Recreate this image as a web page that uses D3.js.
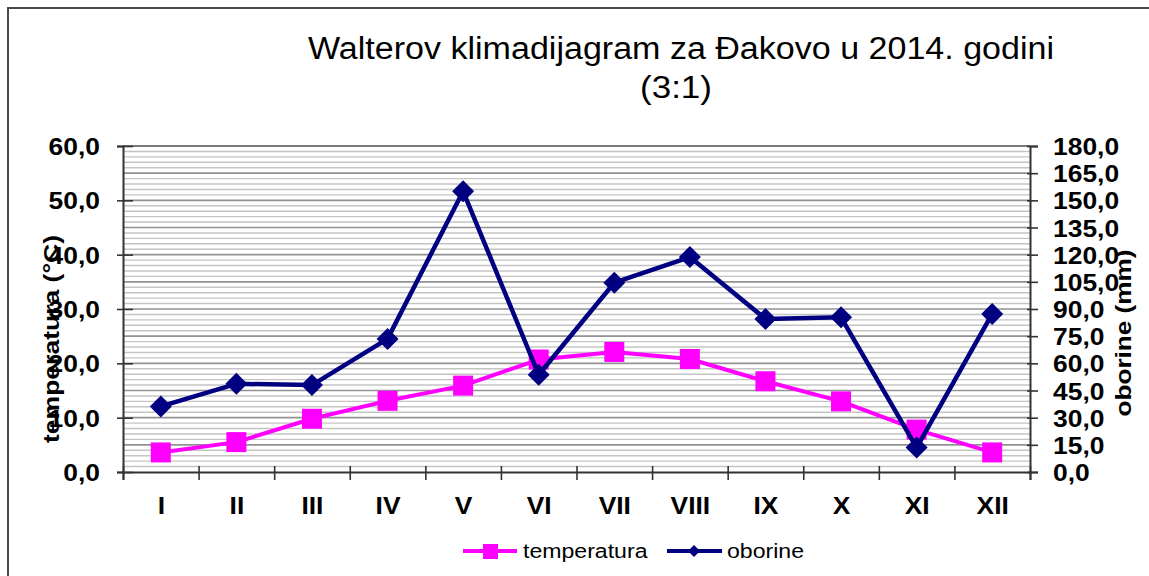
<!DOCTYPE html>
<html><head><meta charset="utf-8">
<script src="https://cdn.jsdelivr.net/npm/d3@7"></script>
<style>body{margin:0;background:#fff}svg{display:block}</style>
</head><body>
<svg id="c" width="1149" height="576"></svg>
<script>
// ---- data ----
const months = ["I","II","III","IV","V","VI","VII","VIII","IX","X","XI","XII"];
const temperatura = [3.6,5.5,9.8,13.1,15.9,20.7,22.1,20.8,16.7,13.0,7.8,3.6];
const oborine = [36.2,48.7,48.0,73.5,155.0,53.7,104.5,118.7,84.5,85.4,13.5,87.3];
const leftTicks = [0,10,20,30,40,50,60];
const rightTicks = [0,15,30,45,60,75,90,105,120,135,150,165,180];
const titleLine1 = "Walterov klimadijagram za Đakovo u 2014. godini";
const titleLine2 = "(3:1)";
const leftTitle = "temperatura (°C)";
const rightTitle = "oborine (mm)";
const seriesNames = ["temperatura","oborine"];

// ---- layout ----
const L = 123, R = 1030, T = 146, B = 472;
const FONT = "Arial, 'Liberation Sans', sans-serif";
const SX = 1.1;
const svg = d3.select("#c");
const fmt = d => d.toFixed(1).replace(".", ",");

svg.append("rect").attr("x",8).attr("y",8).attr("width",1300).attr("height",800)
  .attr("fill","#fff").attr("stroke","#4a4a4a").attr("stroke-width",2);

const x = d3.scalePoint().domain(months).range([L,R]).padding(0.5);
const xb = d3.scaleLinear().domain([0,months.length]).range([L,R]);
const yL = d3.scaleLinear().domain([0,60]).range([B,T]);
const yR = d3.scaleLinear().domain([0,180]).range([B,T]);

// gridlines
const grid = svg.append("g");
grid.selectAll("line.minor").data(d3.range(1,60).filter(v => v % 5 !== 0)).join("line")
  .attr("x1",L).attr("x2",R).attr("y1",d=>yL(d)).attr("y2",d=>yL(d))
  .attr("stroke","#c4c4c4").attr("stroke-width",1.4);
grid.selectAll("line.major").data(d3.range(5,60,5)).join("line")
  .attr("x1",L).attr("x2",R).attr("y1",d=>yL(d)).attr("y2",d=>yL(d))
  .attr("stroke","#929292").attr("stroke-width",1.6);
grid.append("line").attr("x1",L).attr("x2",R).attr("y1",yL(60)).attr("y2",yL(60))
  .attr("stroke","#7a7a7a").attr("stroke-width",2);

// left axis
const gl = svg.append("g").attr("transform",`translate(${L},0)`)
  .call(d3.axisLeft(yL).tickValues(leftTicks).tickSize(6).tickFormat(fmt));
gl.select(".domain").attr("stroke","#333").attr("stroke-width",2);
gl.selectAll(".tick line").attr("x1",10).attr("stroke","#333").attr("stroke-width",1.6);
gl.selectAll(".tick text").attr("x",-21).attr("dy","0.36em").attr("transform",`scale(${SX},1)`)
  .attr("font-family",FONT).attr("font-weight","bold").attr("font-size",24).attr("fill","#000");

// right axis
const gr = svg.append("g").attr("transform",`translate(${R},0)`)
  .call(d3.axisRight(yR).tickValues(rightTicks).tickSize(8).tickFormat(fmt));
gr.select(".domain").attr("stroke","#333").attr("stroke-width",2);
gr.selectAll(".tick line").attr("x1",-3).attr("stroke","#333").attr("stroke-width",1.6);
gr.selectAll(".tick text").attr("x",21).attr("dy","0.36em").attr("transform",`scale(${SX},1)`)
  .attr("font-family",FONT).attr("font-weight","bold").attr("font-size",24).attr("fill","#000");

// bottom axis
const gb = svg.append("g").attr("transform",`translate(0,${B})`)
  .call(d3.axisBottom(xb).tickValues(d3.range(0,months.length+1)).tickSize(8).tickFormat(""));
gb.select(".domain").attr("stroke","#333").attr("stroke-width",2);
gb.selectAll(".tick line").attr("y1",-6).attr("stroke","#333").attr("stroke-width",1.6);
const gbl = svg.append("g").attr("transform",`translate(0,${B})`)
  .call(d3.axisBottom(x).tickSize(0));
gbl.select(".domain").remove();
gbl.selectAll(".tick text").attr("y",42).attr("dy",0).attr("x",0)
  .attr("transform",`scale(${SX},1)`)
  .attr("font-family",FONT).attr("font-weight","bold").attr("font-size",24).attr("fill","#000");

// series
const lineT = d3.line().x((d,i)=>x(months[i])).y(d=>yL(d));
const lineO = d3.line().x((d,i)=>x(months[i])).y(d=>yR(d));
const PINK = "#ff00ff", NAVY = "#000080";
svg.append("path").datum(temperatura).attr("d",lineT).attr("fill","none")
  .attr("stroke",PINK).attr("stroke-width",4).attr("stroke-linejoin","round");
svg.append("g").selectAll("rect").data(temperatura).join("rect")
  .attr("x",(d,i)=>x(months[i])-10).attr("y",d=>yL(d)-10).attr("width",20).attr("height",20)
  .attr("fill",PINK);
svg.append("path").datum(oborine).attr("d",lineO).attr("fill","none")
  .attr("stroke",NAVY).attr("stroke-width",4.5).attr("stroke-linejoin","round");
const diamond = (cx,cy,rx,ry) => `M${cx},${cy-ry}L${cx+rx},${cy}L${cx},${cy+ry}L${cx-rx},${cy}Z`;
svg.append("g").selectAll("path").data(oborine).join("path")
  .attr("d",(d,i)=>diamond(x(months[i]),yR(d),11,11)).attr("fill",NAVY);

// titles
svg.append("text").attr("x",681).attr("y",59).attr("text-anchor","middle")
  .attr("font-family",FONT).attr("font-size",31).attr("textLength",746).attr("lengthAdjust","spacingAndGlyphs")
  .text(titleLine1);
svg.append("text").attr("x",676).attr("y",98).attr("text-anchor","middle")
  .attr("font-family",FONT).attr("font-size",31).attr("textLength",72).attr("lengthAdjust","spacingAndGlyphs")
  .text(titleLine2);

// axis titles
svg.append("text").attr("transform","translate(59,339) rotate(-90)").attr("text-anchor","middle")
  .attr("font-family",FONT).attr("font-weight","bold").attr("font-size",22)
  .attr("textLength",208).attr("lengthAdjust","spacingAndGlyphs").text(leftTitle);
svg.append("text").attr("transform","translate(1131,333) rotate(-90)").attr("text-anchor","middle")
  .attr("font-family",FONT).attr("font-weight","bold").attr("font-size",22)
  .attr("textLength",167).attr("lengthAdjust","spacingAndGlyphs").text(rightTitle);

// legend
const lg = svg.append("g");
const LY = 551;
lg.append("line").attr("x1",463).attr("x2",517).attr("y1",LY).attr("y2",LY).attr("stroke",PINK).attr("stroke-width",4);
lg.append("rect").attr("x",483).attr("y",LY-7).attr("width",15).attr("height",15).attr("fill",PINK);
lg.append("text").attr("transform",`translate(523,${LY+7}) scale(${SX},1)`)
  .attr("font-family",FONT).attr("font-size",21).text(seriesNames[0]);
lg.append("line").attr("x1",667).attr("x2",722).attr("y1",LY).attr("y2",LY).attr("stroke",NAVY).attr("stroke-width",4);
lg.append("path").attr("d",diamond(694,LY,6,6)).attr("fill",NAVY);
lg.append("text").attr("transform",`translate(727,${LY+7}) scale(${SX},1)`)
  .attr("font-family",FONT).attr("font-size",21).text(seriesNames[1]);
</script>
</body></html>
